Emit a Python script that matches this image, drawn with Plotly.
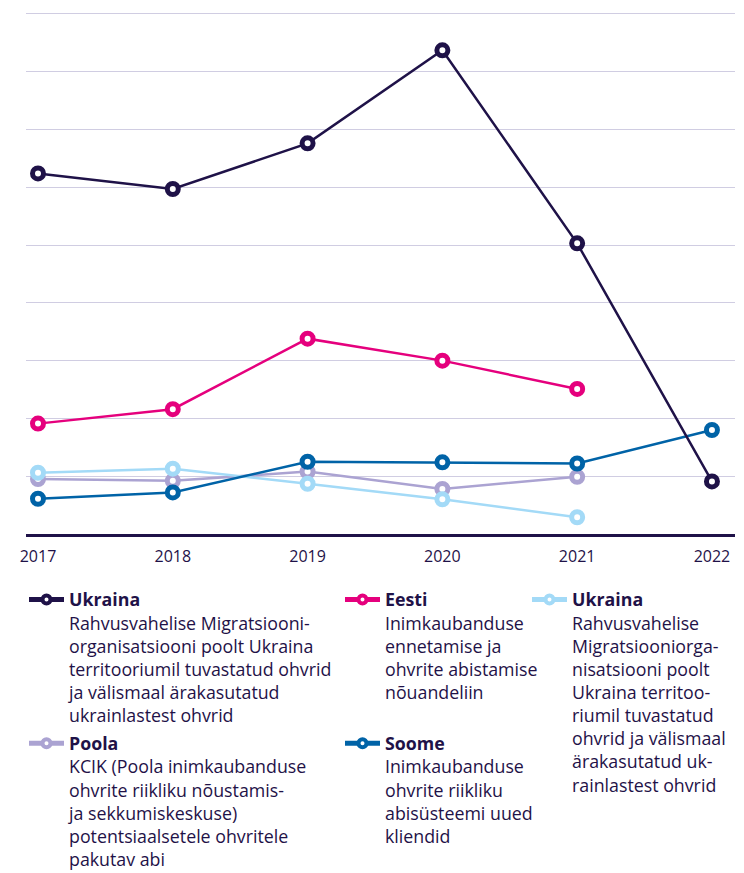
import plotly.graph_objects as go

years = [2017, 2018, 2019, 2020, 2021, 2022]
ukraina_iom = [624, 597, 676, 837, 503, 91]
eesti = [191, 216, 338, 300, 251]
poola = [95, 92, 108, 78, 99]
soome = [61, 72, 125, 124, 122, 180]
ukraina_iom2 = [106, 113, 87, 60, 29]

NAVY = "#1f1248"
PINK = "#e5007d"
LAV = "#aba3d2"
BLUE = "#0063a7"
LIGHT = "#a3daf7"
FONT = "Open Sans"

names = {
    "ukr": "<b>Ukraina</b><br>Rahvusvahelise Migratsiooni-<br>organisatsiooni poolt Ukraina<br>territooriumil tuvastatud ohvrid<br>ja välismaal ärakasutatud<br>ukrainlastest ohvrid",
    "poola": "<b>Poola</b><br>KCIK (Poola inimkaubanduse<br>ohvrite riikliku nõustamis-<br>ja sekkumiskeskuse)<br>potentsiaalsetele ohvritele<br>pakutav abi",
    "eesti": "<b>Eesti</b><br>Inimkaubanduse<br>ennetamise ja<br>ohvrite abistamise<br>nõuandeliin<br>&nbsp;",
    "soome": "<b>Soome</b><br>Inimkaubanduse<br>ohvrite riikliku<br>abisüsteemi uued<br>kliendid",
    "ukr2": "<b>Ukraina</b><br>Rahvusvahelise<br>Migratsiooniorga-<br>nisatsiooni poolt<br>Ukraina territoo-<br>riumil tuvastatud<br>ohvrid ja välismaal<br>ärakasutatud uk-<br>rainlastest ohvrid",
}

fig = go.Figure()

def series(x, y, color):
    fig.add_trace(go.Scatter(
        x=x, y=y, mode="lines+markers", showlegend=False, hoverinfo="skip",
        line=dict(color=color, width=2.5),
        marker=dict(symbol="circle", size=11, color="white", line=dict(color=color, width=5)),
    ))

series(years[:5], poola, LAV)
series(years[:5], ukraina_iom2, LIGHT)
series(years, soome, BLUE)
series(years[:5], eesti, PINK)
series(years, ukraina_iom, NAVY)

def legend_entry(key, color, legend):
    fig.add_trace(go.Scatter(
        x=[None], y=[None], mode="lines+markers", name=names[key], legend=legend,
        legendgroup=key,
        line=dict(color=color, width=5),
        marker=dict(symbol="circle", size=8, color="white", line=dict(color=color, width=4)),
    ))

legend_entry("ukr", NAVY, "legend")
legend_entry("poola", LAV, "legend")
legend_entry("eesti", PINK, "legend2")
legend_entry("soome", BLUE, "legend2")
legend_entry("ukr2", LIGHT, "legend3")

leg_common = dict(
    orientation="v", yanchor="top", xanchor="left", valign="top",
    font=dict(family=FONT, size=17.8, color=NAVY), bgcolor="rgba(0,0,0,0)",
    itemwidth=35, tracegroupgap=2, itemclick=False, itemdoubleclick=False,
)

YMAX = 905
L, R, B = 26, 9, 338.5
T = 534.5 - YMAX * 57.9 / 100
W, H = 744, 873
pw = W - L - R
ph = H - T - B

def px_x(px):
    return (px - L) / pw

def px_y(py):
    return (H - B - py) / ph

fig.update_layout(
    width=W, height=H,
    margin=dict(l=L, r=R, t=T, b=B, pad=0, autoexpand=False),
    paper_bgcolor="white", plot_bgcolor="white",
    font=dict(family=FONT, color=NAVY),
    showlegend=True,
    legend=dict(x=px_x(24), y=px_y(582), **leg_common),
    legend2=dict(x=px_x(340), y=px_y(582), **leg_common),
    legend3=dict(x=px_x(527), y=px_y(582), **leg_common),
    xaxis=dict(
        range=[2016.911, 2022.171], tickvals=years, ticktext=[str(y) for y in years],
        showgrid=False, zeroline=False, showline=True, linecolor=NAVY, linewidth=2.5,
        ticks="outside", ticklen=6, tickcolor="rgba(0,0,0,0)",
        tickfont=dict(family=FONT, size=16, color=NAVY),
    ),
    yaxis=dict(
        range=[0, YMAX], dtick=100, showticklabels=False, showgrid=True,
        gridcolor="#d0cde2", gridwidth=1, zeroline=False, showline=False,
    ),
)

fig.write_html(
    "out.html",
    config={"displayModeBar": False, "staticPlot": True},
    post_script="document.body.style.margin='0';document.body.style.overflow='hidden';",
)
